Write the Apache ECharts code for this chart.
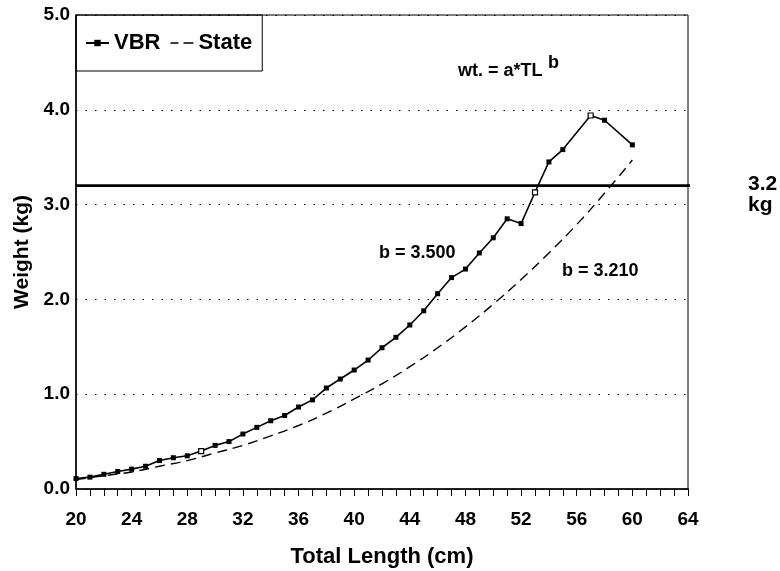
<!DOCTYPE html>
<html>
<head>
<meta charset="utf-8">
<script src="https://cdn.jsdelivr.net/npm/echarts@6/dist/echarts.min.js"></script>
<style>
html,body{margin:0;padding:0;background:#fff;}
#chart{width:780px;height:571px;}
</style>
</head>
<body>
<div id="chart"></div>
<script>
// Total length (cm) for VBR observations
const vbrLength = [20,21,22,23,24,25,26,27,28,29,30,31,32,33,34,35,36,37,38,39,40,41,42,43,44,45,46,47,48,49,50,51,52,53,54,55,57,58,60];
// VBR weights (kg)
const vbrWeight = [0.11,0.125,0.155,0.185,0.21,0.24,0.30,0.33,0.35,0.40,0.46,0.50,0.58,0.65,0.72,0.775,0.865,0.94,1.065,1.16,1.255,1.36,1.49,1.60,1.73,1.88,2.06,2.23,2.32,2.49,2.65,2.85,2.80,3.13,3.45,3.58,3.94,3.89,3.63];
// Lengths whose VBR marker is drawn open in the original
const vbrOpenAt = [29, 53, 57];
// State curve
const stateLength = [20,22,24,26,28,30,32,34,36,38,40,42,44,46,48,50,52,54,56,58,60];
const stateWeight = [0.10,0.14,0.18,0.24,0.30,0.38,0.46,0.56,0.67,0.80,0.95,1.11,1.29,1.49,1.71,1.95,2.21,2.49,2.79,3.12,3.47];
// Reference weight line
const refWeight = 3.2;
const refLength = [20, 66];
const xTicks = [20,24,28,32,36,40,44,48,52,56,60,64];
const yTicks = [0,1,2,3,4,5];

const FONT = 'Liberation Sans, Arial, sans-serif';
const chart = echarts.init(document.getElementById('chart'));

const vbrData = vbrLength.map((x, i) => {
  const item = {value: [x, vbrWeight[i]]};
  if (vbrOpenAt.includes(x)) item.itemStyle = {color: '#fff', borderColor: '#000', borderWidth: 1.2};
  return item;
});
const stateData = stateLength.map((x, i) => [x, stateWeight[i]]);

const dashIcon = 'path://M0,0L0.01,0L0.01,0.01Z M23,8L22.99,8L22.99,7.99Z M0,3.2H8V4.8H0Z M13,3.2H23V4.8H13Z';

chart.setOption({
  animation: false,
  backgroundColor: '#fff',
  textStyle: {fontFamily: FONT},
  grid: {left: 76, right: 92, top: 15, bottom: 82, outerBoundsMode: 'none', containLabel: false,
         show: true, borderColor: '#000', borderWidth: 1, backgroundColor: 'transparent'},
  legend: {
    left: 76, top: 15, orient: 'horizontal',
    padding: [17, 10, 17, 9],
    borderColor: '#000', borderWidth: 1, borderRadius: 0,
    itemWidth: 23, itemHeight: 8, itemGap: 10,
    textStyle: {fontFamily: FONT, fontWeight: 'bold', fontSize: 22, color: '#000'},
    data: [{name: 'VBR'}, {name: 'State', icon: dashIcon}]
  },
  xAxis: {
    type: 'value', min: xTicks[0], max: xTicks[xTicks.length-1], interval: 4,
    name: 'Total Length (cm)', nameLocation: 'middle', nameGap: 57,
    nameTextStyle: {fontFamily: FONT, fontWeight: 'bold', fontSize: 22, color: '#000'},
    axisLine: {lineStyle: {color: '#000', width: 1.5}},
    axisTick: {show: true, inside: false, length: 7, lineStyle: {color: '#000'}},
    minorTick: {show: true, splitNumber: 4, length: 7, lineStyle: {color: '#000'}},
    axisLabel: {fontFamily: FONT, fontWeight: 'bold', fontSize: 19, color: '#000', margin: 21},
    splitLine: {show: false}
  },
  yAxis: {
    type: 'value', min: yTicks[0], max: yTicks[yTicks.length-1], interval: 1,
    name: 'Weight (kg)', nameLocation: 'middle', nameGap: 38, nameRotate: 90,
    nameTextStyle: {fontFamily: FONT, fontWeight: 'bold', fontSize: 21, color: '#000'},
    axisLine: {show: true, lineStyle: {color: '#000', width: 1.5}},
    axisTick: {show: false},
    axisLabel: {fontFamily: FONT, fontWeight: 'bold', fontSize: 19, color: '#000', margin: 6, formatter: v => v.toFixed(1)},
    splitLine: {show: true, lineStyle: {color: '#000', type: [1.5, 8], width: 1}}
  },
  graphic: [
    {type: 'text', left: 458, top: 62, style: {text: 'wt. = a*TL', fontFamily: FONT, fontWeight: 'bold', fontSize: 18, fill: '#000'}},
    {type: 'text', left: 548, top: 54, style: {text: 'b', fontFamily: FONT, fontWeight: 'bold', fontSize: 18, fill: '#000'}},
    {type: 'text', left: 379, top: 244, style: {text: 'b = 3.500', fontFamily: FONT, fontWeight: 'bold', fontSize: 18, fill: '#000'}},
    {type: 'text', left: 562, top: 262, style: {text: 'b = 3.210', fontFamily: FONT, fontWeight: 'bold', fontSize: 18, fill: '#000'}},
    {type: 'text', left: 748, top: 174, style: {text: '3.2\nkg', fontFamily: FONT, fontWeight: 'bold', fontSize: 21, lineHeight: 21, fill: '#000'}}
  ],
  series: [
    {
      name: 'VBR', type: 'line', data: vbrData,
      symbol: 'rect', symbolSize: 5, showSymbol: true,
      itemStyle: {color: '#000'},
      lineStyle: {color: '#000', width: 1.6},
      z: 5
    },
    {
      name: 'State', type: 'line', data: stateData,
      symbol: 'none', smooth: true,
      itemStyle: {color: '#000'},
      lineStyle: {color: '#000', width: 1.4, type: [10, 6]},
      z: 4
    },
    {
      name: 'ref', type: 'line', data: refLength.map(x => [x, refWeight]),
      symbol: 'none', clip: false, silent: true,
      lineStyle: {color: '#000', width: 2.8},
      z: 3
    }
  ]
});
</script>
</body>
</html>
